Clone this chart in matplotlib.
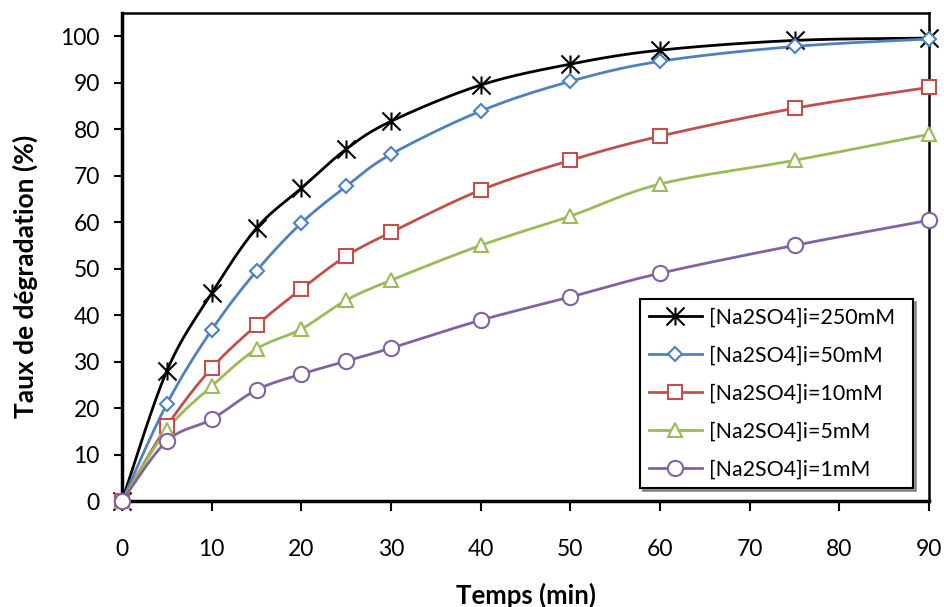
import numpy as np
import matplotlib
matplotlib.use("Agg")
from matplotlib import pyplot as plt
from matplotlib.path import Path

plt.rcParams["font.family"] = ["Lato", "DejaVu Sans"]

# temps (min)
temps = [0, 5, 10, 15, 20, 25, 30, 40, 50, 60, 75, 90]

# taux de degradation (%) for each [Na2SO4]i
na_250 = [0, 28.0, 44.7, 58.7, 67.3, 75.7, 81.7, 89.5, 94.0, 97.0, 99.1, 99.6]
na_50 = [0, 20.9, 36.8, 49.5, 59.8, 67.7, 74.6, 83.9, 90.3, 94.6, 97.8, 99.4]
na_10 = [0, 16.1, 28.6, 37.8, 45.6, 52.7, 57.8, 66.9, 73.3, 78.5, 84.5, 89.0]
na_5 = [0, 15.3, 24.7, 32.7, 37.0, 43.2, 47.5, 55.0, 61.3, 68.2, 73.3, 78.9]
na_1 = [0, 12.9, 17.6, 23.9, 27.3, 30.1, 32.9, 38.9, 43.9, 49.0, 55.0, 60.4]

labels = ["[Na2SO4]i=250mM", "[Na2SO4]i=50mM", "[Na2SO4]i=10mM",
          "[Na2SO4]i=5mM", "[Na2SO4]i=1mM"]
colors = ["black", "#4F81BD", "#C0504D", "#9BBB59", "#8064A2"]

# excel-like star marker: X plus vertical bar
star = Path([(0, -1), (0, 1), (-1, -1), (1, 1), (-1, 1), (1, -1)],
            [Path.MOVETO, Path.LINETO, Path.MOVETO, Path.LINETO, Path.MOVETO, Path.LINETO])
markers = [star, "D", "s", "^", "o"]
msizes = [13, 7.5, 10, 10, 11]


def smooth(x, y, n=25):
    # bezier smoothing between points (like excel "smoothed line")
    x = np.asarray(x, float)
    y = np.asarray(y, float)
    xs, ys = [x[0]], [y[0]]
    for i in range(len(x) - 1):
        p0 = np.array([x[max(i - 1, 0)], y[max(i - 1, 0)]])
        p1 = np.array([x[i], y[i]])
        p2 = np.array([x[i + 1], y[i + 1]])
        p3 = np.array([x[min(i + 2, len(x) - 1)], y[min(i + 2, len(x) - 1)]])
        c1 = p1 + (p2 - p0) / 6
        c2 = p2 - (p3 - p1) / 6
        t = np.linspace(0, 1, n)[1:, None]
        pts = ((1 - t) ** 3) * p1 + 3 * ((1 - t) ** 2) * t * c1 + 3 * (1 - t) * t ** 2 * c2 + t ** 3 * p2
        xs.extend(pts[:, 0])
        ys.extend(pts[:, 1])
    return xs, ys


fig = plt.figure(figsize=(9.45, 6.07), dpi=100)
ax = fig.add_axes([0.1291, 0.1746, 0.8540, 0.8040])

series = [na_250, na_50, na_10, na_5, na_1]
handles = []
for vals, lab, col, mk, ms in zip(series, labels, colors, markers, msizes):
    sx, sy = smooth(temps, vals)
    ax.plot(sx, sy, color=col, lw=2.0, zorder=2)
    fc = "none" if mk is star else "white"
    ax.plot(temps, vals, ls="none", marker=mk, ms=ms, mfc=fc, mec=col,
            mew=1.5, zorder=3, clip_on=False)
    h, = ax.plot([], [], color=col, lw=2.0, marker=mk, ms=ms, mfc=fc, mec=col, mew=1.5)
    handles.append(h)

ax.set_xlim(0, 90)
ax.set_ylim(0, 105)
ax.set_xticks(range(0, 91, 10))
ax.set_yticks(range(0, 101, 10))
ax.tick_params(axis="both", direction="out", labelsize=16.5, width=1.5)
ax.tick_params(axis="x", length=7, pad=20)
ax.tick_params(axis="y", length=6, pad=10)
for s in ["left", "bottom"]:
    ax.spines[s].set_linewidth(2.5)
for s in ["top", "right"]:
    ax.spines[s].set_linewidth(1.8)

ax.set_xlabel("Temps (min)", fontsize=18.5, fontweight="bold", va="center")
ax.xaxis.set_label_coords(0.5, -0.193)
ax.set_ylabel("Taux de dégradation (%)", fontsize=19, fontweight="bold", va="center")
ax.yaxis.set_label_coords(-0.120, 0.461)

leg = ax.legend(handles, labels, loc="lower left", bbox_to_anchor=(0.642, 0.027, 0.338, 0.395),
                mode="expand", fontsize=15.4, frameon=True, fancybox=False, shadow=True,
                borderaxespad=0, handlelength=2.5, borderpad=0.4, labelspacing=0.84,
                handletextpad=0.3)
leg.get_frame().set_edgecolor("black")
leg.get_frame().set_linewidth(1.5)

fig.savefig("out.png", dpi=100)
